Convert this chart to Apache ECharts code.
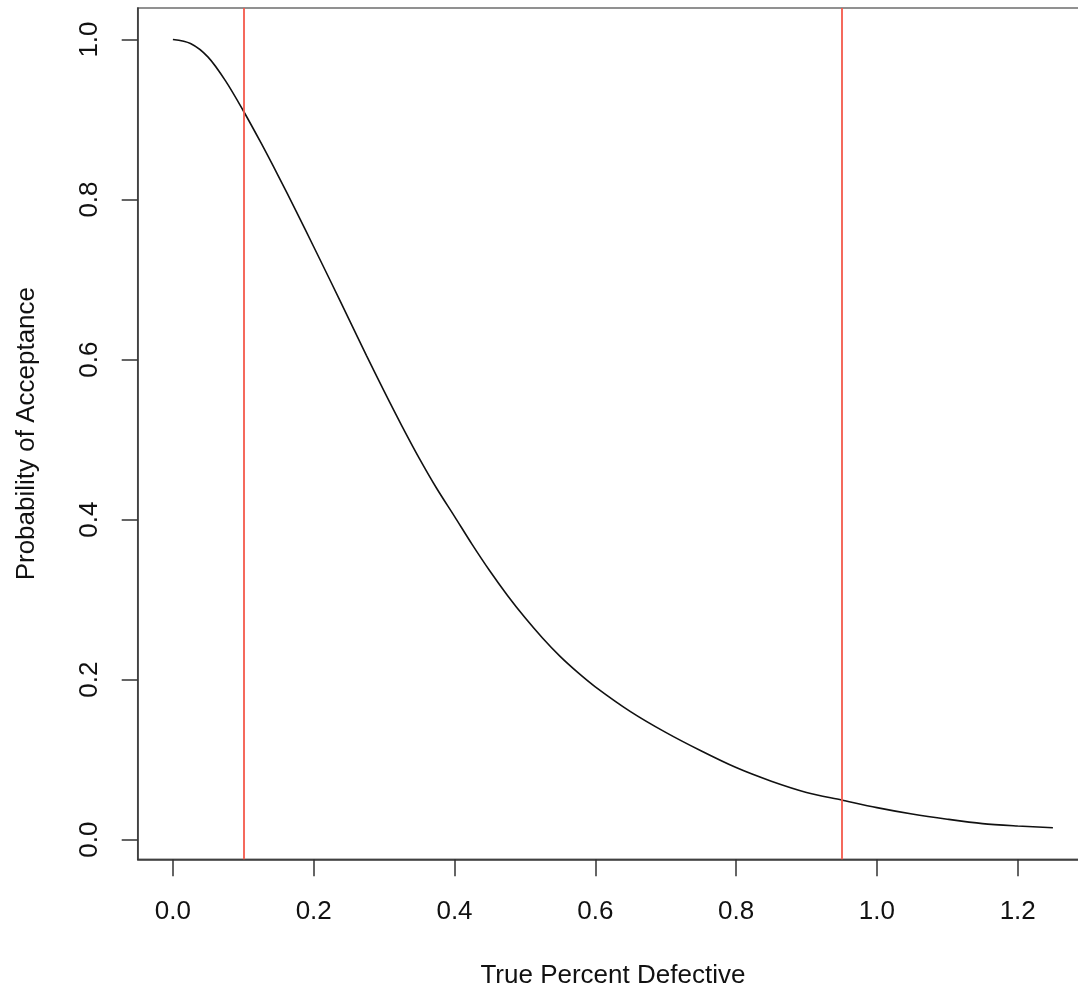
<!DOCTYPE html>
<html>
<head>
<meta charset="utf-8">
<title>OC Curve</title>
<style type="text/css">
    *{
        margin:0;
        padding:0;
    }
    html,body{
        width:100%;
        height:100%;
        background:#fff;
    }
    #main{
        width:1078px;
        height:987px;
    }
</style>
</head>
<body>
<div id="main"></div>
<script src="https://cdn.jsdelivr.net/npm/echarts@6/dist/echarts.min.js"></script>
<script type="text/javascript">
    // true percent defective (x) and probability of acceptance (y)
    var pctDefective = [0, 0.025, 0.05, 0.075, 0.1, 0.125, 0.15, 0.175, 0.2, 0.225,
        0.25, 0.275, 0.3, 0.325, 0.35, 0.375, 0.4, 0.425, 0.45, 0.475,
        0.5, 0.525, 0.55, 0.575, 0.6, 0.65, 0.7, 0.75, 0.8, 0.85, 0.9, 0.95,
        1.0, 1.05, 1.1, 1.15, 1.2, 1.25];
    var probAccept = [1.000, 0.995, 0.978, 0.948, 0.911, 0.871, 0.829, 0.7855, 0.741, 0.696,
        0.6505, 0.605, 0.5605, 0.5175, 0.4765, 0.4385, 0.404, 0.369, 0.336, 0.3055,
        0.2775, 0.252, 0.229, 0.209, 0.191, 0.160, 0.134, 0.111, 0.090, 0.073, 0.059, 0.0495,
        0.040, 0.032, 0.0255, 0.020, 0.017, 0.0148];
    // vertical reference lines (AQL / LTPD)
    var refLines = [0.1, 0.95];
    // tick labels
    var xTicks = [0, 0.2, 0.4, 0.6, 0.8, 1.0, 1.2];
    var yTicks = [0, 0.2, 0.4, 0.6, 0.8, 1.0];

    var curve = pctDefective.map(function (x, i) { return [x, probAccept[i]]; });

    var font = '"Liberation Sans", Arial, Helvetica, sans-serif';
    var myChart = echarts.init(document.getElementById('main'), null, {renderer: 'canvas'});

    var option = {
        animation: false,
        backgroundColor: '#fff',
        grid: {
            show: true,
            left: 137.7,
            top: 8,
            width: 950.4,
            height: 851.3,
            outerBoundsMode: 'none',   // box runs past the right edge like the R plot
            borderColor: '#6e6e6e',
            borderWidth: 1.5,
            backgroundColor: 'transparent'
        },
        xAxis: {
            type: 'value',
            min: -0.05,
            max: 1.30,
            name: 'True Percent Defective',
            nameLocation: 'middle',
            nameGap: 104,
            nameTextStyle: {fontSize: 26, color: '#111', fontFamily: font},
            axisLine: {show: true, onZero: false, lineStyle: {color: '#333', width: 1.5}},
            axisTick: {show: true, customValues: xTicks, length: 17, lineStyle: {color: '#333', width: 1.5}},
            axisLabel: {
                customValues: xTicks,
                margin: 40,
                fontSize: 26,
                color: '#111',
                fontFamily: font,
                formatter: function (v) { return v.toFixed(1); }
            },
            splitLine: {show: false}
        },
        yAxis: {
            type: 'value',
            min: -0.0246,
            max: 1.0394,
            name: 'Probability of Acceptance',
            nameLocation: 'middle',
            nameGap: 98,
            nameTextStyle: {fontSize: 26, color: '#111', fontFamily: font},
            axisLine: {show: true, onZero: false, lineStyle: {color: '#333', width: 1.5}},
            axisTick: {show: true, customValues: yTicks, length: 16, lineStyle: {color: '#333', width: 1.5}},
            axisLabel: {
                customValues: yTicks,
                rotate: 90,
                margin: 35,
                fontSize: 26,
                color: '#111',
                fontFamily: font,
                formatter: function (v) { return v.toFixed(1); }
            },
            splitLine: {show: false}
        },
        series: [
            {
                name: 'OC',
                type: 'line',
                data: curve,
                showSymbol: false,
                smooth: 0.3,
                lineStyle: {color: '#111', width: 1.6},
                markLine: {
                    silent: true,
                    symbol: 'none',
                    label: {show: false},
                    lineStyle: {color: '#f4594b', width: 1.8, type: 'solid'},
                    data: refLines.map(function (v) { return {xAxis: v}; })
                }
            }
        ]
    };
    myChart.setOption(option);
</script>
</body>
</html>
